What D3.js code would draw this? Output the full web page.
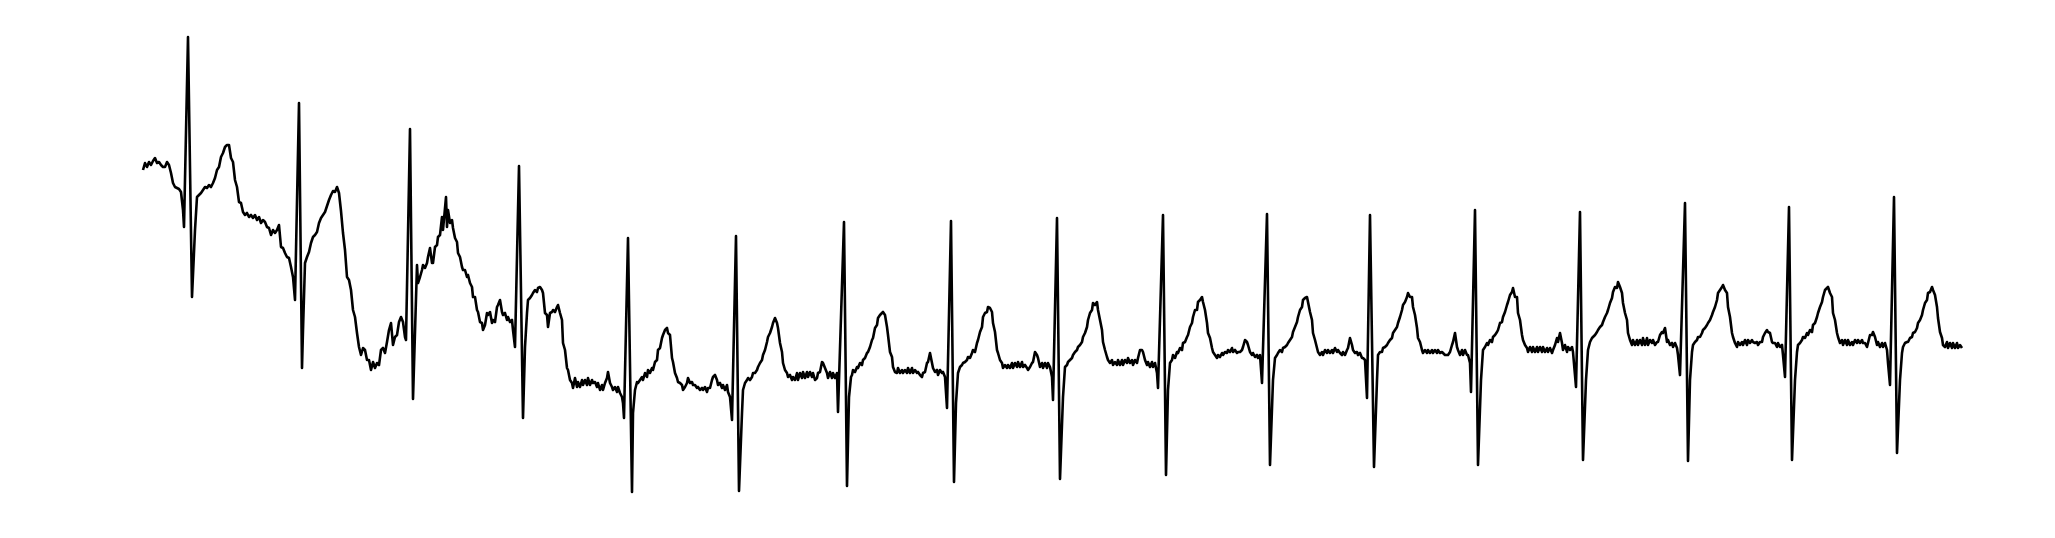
<!DOCTYPE html>
<html>
<head>
<meta charset="utf-8">
<script src="https://cdn.jsdelivr.net/npm/d3@7"></script>
<style>
  html, body { margin: 0; padding: 0; background: #ffffff; }
  svg { display: block; }
</style>
</head>
<body>
<div id="chart"></div>
<script>
// ECG trace: [sample index, amplitude (ADC units)]
const warmupBeats = [
[0,180],[2,187],[4,183],[6,188],[8,185],[10,189],[12,192],[14,187],[16,188],[18,185],[20,183],[22,183],[24,188],[26,185],[28,177],[30,167],[32,163],[34,162],[36,161],[38,158],[40,140],[41,123],[45,313],[49,53],[52,120],[54,153],[56,155],[58,157],[60,160],[62,163],[64,162],[66,165],[68,163],[70,167],[72,172],[74,180],[76,183],[78,193],[80,197],[82,203],[84,205],[86,205],[88,192],[90,188],[92,170],[94,163],[96,148],[98,147],[100,138],[102,135],[104,137],[106,133],[108,135],[110,132],[112,135],[114,130],[116,133],[118,127],[120,130],[122,128],[124,123],[126,122],[128,115],[130,120],[132,117],[134,120],[136,125],[138,103],[140,102],[142,97],[144,93],[146,92],[148,83],[150,73],[152,50],[156,247],[159,-18],[160,20],[162,87],
[164,93],[166,98],[168,107],[170,113],[172,115],[174,118],[176,127],[178,132],[180,135],[182,138],[184,144],[186,150],[188,155],[190,159],[192,158],[194,163],[196,157],[198,139],[200,117],[202,100],[204,73],[206,70],[208,60],[210,40],[212,33],[214,17],[216,3],[218,-5],[220,2],[222,0],[224,-10],[226,-10],[228,-20],[230,-12],[232,-18],[234,-13],[236,-15],[238,0],[240,2],[242,-3],[244,8],[246,20],[248,27],[250,5],[252,13],[254,15],[256,28],[258,33],[260,28],[262,13],[263,10],[267,221],[270,-49],[274,85],[275,67],[277,73],[279,80],[280,85],[282,82],[284,87],[285,93],[287,102],[289,87],[290,87],[292,103],[294,105],[295,113],[297,115],[299,133],[300,120],[303,153],[304,123],[305,140],[307,127],[309,130],[310,122],[312,112],[314,108],[315,97],[317,93],[319,83],[320,80],
[322,80],[324,73],[325,75],[327,67],[329,63],[330,53],[332,53],[334,40],[335,38],[337,28],[339,27],[340,20],[342,25],[344,37],[345,35],[347,38],[349,27],[350,30],[352,28],[354,43],[355,45],[357,50],[359,38],[360,35],[362,37],[364,30],[365,33],[367,28],[369,30],[370,20],[372,3],[376,184],[380,-68],[382,3],[384,37],[385,50],[387,52],[389,55],[390,57],[392,60],[394,58],[395,62],[397,63],[399,60],[400,57],[402,37],[404,35],[405,23],[407,37],[409,38],[410,40],[412,38],[414,43],[415,45],[417,37],[419,30],[420,7],[422,0],[424,-18],[425,-20],[427,-30],[429,-33],[430,-38],[432,-28],[434,-37],[435,-32],[437,-37],[439,-30],[440,-35],[442,-30],[444,-35],[445,-28],[447,-35],[449,-30],[450,-33],[452,-32],[454,-37],[455,-33],[457,-40],[459,-35],[460,-40],[462,-33],[464,-28],[465,-22],[467,-33],[469,-37],[470,-40],[472,-37],[474,-42],[475,-37],[477,-43],[479,-47],[480,-53],[481,-68],[485,112],[489,-142]
];

const steadyBeatsA = [
[490,-63],[492,-40],[494,-32],[495,-33],[497,-30],[499,-27],[500,-30],[502,-23],[504,-27],[505,-20],[507,-23],[509,-18],[510,-20],[512,-12],[514,-10],[515,0],[517,2],[519,12],[520,15],[522,20],[524,22],[525,17],[527,15],[529,-8],[530,-12],[532,-23],[534,-28],[535,-32],[537,-33],[539,-35],[540,-40],[542,-37],[544,-33],[545,-28],[547,-33],[549,-32],[550,-35],[552,-35],[554,-38],[555,-37],[557,-40],[559,-38],[560,-40],[562,-37],[564,-42],[565,-38],[567,-38],[569,-30],[570,-27],[572,-25],[574,-30],[575,-35],[577,-33],[579,-38],[580,-35],[582,-40],[584,-35],[585,-42],[587,-47],[589,-70],[593,114],[596,-141],[599,-63],[600,-40],[602,-33],[604,-30],[605,-28],[607,-30],[609,-27],[610,-23],[612,-23],[614,-20],[615,-17],[617,-13],[619,-10],[620,-5],[622,0],[624,8],[625,13],[627,17],[629,23],[630,27],[632,32],[634,27],[635,22],[637,7],[639,-2],[640,-13],[642,-20],[644,-23],[645,-27],[647,-25],[649,-30],[650,-27],[652,-30],
[654,-23],[655,-30],[657,-23],[659,-28],[660,-22],[662,-28],[664,-22],[665,-27],[667,-22],[669,-27],[670,-23],[672,-30],[674,-28],[675,-23],[677,-22],[679,-12],[680,-13],[682,-18],[684,-23],[685,-28],[687,-22],[689,-28],[690,-23],[692,-28],[694,-23],[695,-62],[701,128],[704,-136],[706,-47],[708,-27],[709,-25],[710,-20],[712,-22],[714,-17],[715,-18],[717,-13],[719,-15],[720,-10],[722,-8],[724,-3],[725,-2],[727,3],[729,10],[730,12],[732,22],[734,25],[735,32],[737,35],[739,37],[740,38],[742,35],[744,23],[745,15],[747,-2],[749,-7],[750,-17],[752,-22],[754,-23],[755,-18],[757,-23],[759,-20],[760,-23],[762,-20],[764,-23],[765,-18],[767,-23],[769,-18],[770,-23],[772,-20],[774,-23],[775,-22],[777,-25],[779,-27],[780,-23],[782,-22],[784,-13],[785,-12],[787,-3],[789,-13],[790,-18],[792,-22],[794,-20],[795,-25],[797,-20],[799,-23],[800,-22],[802,-27],[804,-58],[808,129],[811,-132],[813,-53],[815,-23],[817,-17],[819,-15],[820,-13],
[822,-12],[824,-10],[825,-7],[827,-8],[829,-3],[830,0],[832,-2],[834,7],[835,10],[837,18],[839,23],[840,33],[842,37],[844,38],[845,43],[847,42],[849,38],[850,27],[852,18],[854,0],[855,-3],[857,-10],[859,-13],[860,-18],[862,-15],[864,-18],[865,-15],[867,-18],[869,-13],[870,-18],[872,-13],[874,-17],[875,-12],[877,-17],[879,-12],[880,-17],[882,-15],[884,-18],[885,-20],[887,-17],[889,-13],[890,-12],[892,-2],[894,-5],[895,-8],[897,-17],[899,-13],[900,-18],[902,-13],[904,-18],[905,-13],[907,-17],[909,-27],[910,-50],[914,132],[917,-129],[920,-47],[922,-17],[924,-15],[925,-12],[927,-10],[929,-8],[930,-5],[932,-2],[934,0],[935,3],[937,5],[939,8],[940,13],[942,17],[944,23],[945,30],[947,37],[949,40],[950,47],[952,45],[954,48],[955,40],[957,30],[959,20],[960,8],[962,0],[964,-7],[965,-10],[967,-13],[969,-10],[970,-15],[972,-12],[974,-15],[975,-10],[977,-15],[979,-10],[980,-15],[982,-10],[984,-13]
];

const steadyBeatsB = [
[985,-8],[987,-13],[989,-10],[990,-15],[992,-10],[994,-13],[995,-8],[997,0],[999,0],[1000,-2],[1002,-10],[1004,-15],[1005,-12],[1007,-17],[1009,-12],[1010,-17],[1012,-13],[1014,-23],[1015,-38],[1020,135],[1023,-125],[1025,-40],[1027,-13],[1029,-10],[1030,-5],[1032,-8],[1034,-2],[1035,-3],[1037,2],[1039,0],[1040,7],[1042,8],[1044,13],[1045,15],[1047,23],[1049,27],[1050,33],[1052,40],[1054,40],[1055,48],[1057,50],[1059,53],[1060,48],[1062,40],[1064,27],[1065,17],[1067,12],[1069,2],[1070,-2],[1072,-5],[1074,-8],[1075,-5],[1077,-7],[1079,-3],[1080,-5],[1082,-2],[1084,-3],[1085,0],[1087,-2],[1089,2],[1090,-2],[1092,0],[1094,-3],[1095,-2],[1097,-2],[1099,0],[1100,3],[1102,10],[1104,8],[1105,5],[1107,-2],[1109,-5],[1110,-3],[1112,-7],[1114,-5],[1115,-8],[1117,-5],[1119,-33],[1124,136],[1127,-115],[1130,-30],[1132,-8],[1134,-5],[1135,-3],[1137,0],[1139,-2],[1140,2],[1142,3],[1144,5],[1145,7],[1147,10],[1149,13],[1150,18],
[1152,23],[1154,28],[1155,33],[1157,40],[1159,43],[1160,50],[1162,52],[1164,53],[1165,48],[1167,38],[1169,30],[1170,17],[1172,10],[1174,2],[1175,-2],[1177,-5],[1179,-2],[1180,-5],[1182,0],[1184,-3],[1185,0],[1187,-3],[1189,0],[1190,-3],[1192,2],[1194,-2],[1195,0],[1197,-3],[1199,-5],[1200,-2],[1202,-5],[1204,0],[1205,2],[1207,12],[1209,5],[1210,0],[1212,-3],[1214,-2],[1215,-5],[1217,-3],[1219,-8],[1220,-8],[1222,-10],[1224,-48],[1227,135],[1231,-117],[1234,-30],[1235,-5],[1237,-2],[1239,-2],[1240,2],[1242,3],[1244,5],[1245,7],[1247,10],[1249,12],[1250,17],[1252,20],[1254,23],[1255,27],[1257,33],[1259,40],[1260,45],[1262,48],[1264,53],[1265,57],[1267,53],[1269,53],[1270,43],[1272,35],[1274,22],[1275,12],[1277,8],[1279,0],[1280,-3],[1282,0],[1284,-3],[1285,0],[1287,-3],[1289,0],[1290,-3],[1292,0],[1294,-3],[1295,0],[1297,-3],[1299,-2],[1300,-3],[1302,-5],[1304,-5],[1305,-5],[1307,-2],[1309,5],[1310,8],[1312,17],
[1314,3],[1315,0],[1317,-5],[1319,0],[1320,-5],[1322,0],[1324,-5],[1325,-5],[1327,-13],[1328,-42],[1332,140],[1335,-115],[1338,-30],[1340,0],[1342,3],[1344,7],[1345,5],[1347,10],[1349,8],[1350,13],[1352,15],[1354,18],[1355,20],[1357,27],[1359,28],[1360,33],[1362,38],[1364,45],[1365,48],[1367,55],[1369,58],[1370,62],[1372,53],[1374,53],[1375,37],[1377,30],[1379,15],[1380,10],[1382,5],[1384,2],[1385,-2],[1387,3],[1389,-2],[1390,3],[1392,-2],[1394,3],[1395,-2],[1397,3],[1399,-2],[1400,3],[1402,-2],[1404,2],[1405,-2],[1407,2],[1409,-3],[1410,0],[1412,5],[1414,12],[1415,8],[1417,17],[1419,7],[1420,0],[1422,5],[1424,-2],[1425,3],[1427,0],[1429,3],[1430,-2],[1433,-37],[1437,138],[1440,-110],[1443,-30],[1445,0],[1447,8],[1449,12],[1450,13],[1452,15],[1454,18],[1455,20],[1457,23],[1459,25],[1460,28],[1462,33],[1464,37],[1465,40],[1467,47],[1469,52],[1470,58],[1472,63],[1474,62],[1475,68],[1477,63],[1479,57]
];

const steadyBeatsC = [
[1480,47],[1482,37],[1484,30],[1485,17],[1487,10],[1489,5],[1490,10],[1492,5],[1494,10],[1495,5],[1497,10],[1499,5],[1500,12],[1502,5],[1504,12],[1505,5],[1507,10],[1509,7],[1510,10],[1512,5],[1514,8],[1515,8],[1517,15],[1519,18],[1520,17],[1522,22],[1524,8],[1525,10],[1527,5],[1529,7],[1530,3],[1532,7],[1534,2],[1535,-5],[1537,-25],[1542,147],[1545,-111],[1547,-30],[1549,-2],[1550,5],[1552,8],[1554,10],[1555,13],[1557,13],[1559,17],[1560,20],[1562,22],[1564,25],[1565,27],[1567,30],[1569,35],[1570,38],[1572,43],[1574,50],[1575,57],[1577,60],[1579,63],[1580,65],[1582,60],[1584,57],[1585,43],[1587,33],[1589,17],[1590,13],[1592,7],[1594,3],[1595,8],[1597,5],[1599,8],[1600,5],[1602,10],[1604,5],[1605,10],[1607,7],[1609,10],[1610,8],[1612,7],[1614,8],[1615,5],[1617,8],[1619,8],[1620,13],[1622,17],[1624,20],[1625,18],[1627,17],[1629,8],[1630,7],[1632,7],[1634,3],[1635,7],[1637,3],[1639,5],[1640,-5],[1642,-27],[1646,143],
[1649,-110],[1652,-30],[1654,-2],[1655,5],[1657,7],[1659,10],[1660,13],[1662,12],[1664,17],[1665,15],[1667,20],[1669,18],[1670,25],[1672,27],[1674,33],[1675,37],[1677,43],[1679,48],[1680,53],[1682,60],[1684,62],[1685,63],[1687,57],[1689,53],[1690,37],[1692,30],[1694,17],[1695,13],[1697,7],[1699,10],[1700,5],[1702,10],[1704,5],[1705,10],[1707,5],[1709,8],[1710,5],[1712,10],[1714,7],[1715,10],[1717,7],[1719,10],[1720,7],[1722,7],[1724,3],[1725,7],[1727,15],[1729,15],[1730,18],[1732,13],[1734,5],[1735,8],[1737,3],[1739,7],[1740,3],[1742,7],[1744,0],[1745,-13],[1747,-35],[1751,153],[1754,-103],[1757,-30],[1759,-3],[1760,3],[1762,7],[1764,8],[1765,8],[1767,12],[1769,13],[1770,17],[1772,18],[1774,22],[1775,27],[1777,30],[1779,35],[1780,40],[1782,47],[1784,50],[1785,57],[1787,58],[1789,63],[1790,60],[1792,55],[1794,43],[1795,32],[1797,18],[1799,12],[1800,5],[1802,3],[1804,8],[1805,2],[1807,7],[1809,2],[1810,7],[1812,2],[1814,7],[1815,2],[1817,5],[1819,2]
];

const ecg = warmupBeats.concat(steadyBeatsA, steadyBeatsB, steadyBeatsC);

const W = 2055, H = 538;
const plot = { left: 143, right: 1962, top: 37, bottom: 492 };

const svg = d3.select("#chart").append("svg")
  .attr("width", W).attr("height", H)
  .style("background", "#ffffff");

const x = d3.scaleLinear()
  .domain(d3.extent(ecg, d => d[0]))
  .range([plot.left, plot.right]);

const y = d3.scaleLinear()
  .domain(d3.extent(ecg, d => d[1]))
  .range([plot.bottom, plot.top]);

const line = d3.line()
  .x(d => x(d[0]))
  .y(d => y(d[1]))
  .curve(d3.curveLinear);

svg.append("path")
  .datum(ecg)
  .attr("d", line)
  .attr("fill", "none")
  .attr("stroke", "#000000")
  .attr("stroke-width", 2.6)
  .attr("stroke-linejoin", "round")
  .attr("stroke-linecap", "butt");
</script>
</body>
</html>
